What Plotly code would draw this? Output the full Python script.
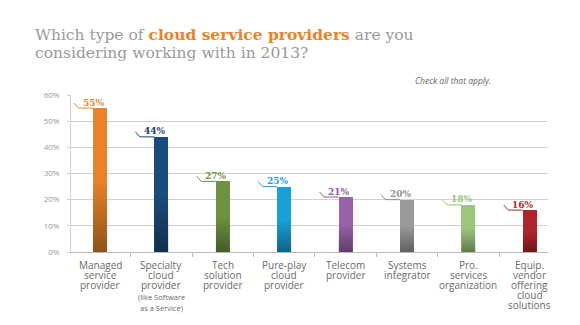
import plotly.graph_objects as go

# ---- data ----
categories = ["Managed service provider", "Specialty cloud provider", "Tech solution provider",
              "Pure-play cloud provider", "Telecom provider", "Systems integrator",
              "Pro. services organization", "Equip. vendor offering cloud solutions"]
label_lines = [["Managed", "service", "provider"],
               ["Specialty", "cloud", "provider"],
               ["Tech", "solution", "provider"],
               ["Pure-play", "cloud", "provider"],
               ["Telecom", "provider"],
               ["Systems", "integrator"],
               ["Pro.", "services", "organization"],
               ["Equip.", "vendor", "offering", "cloud", "solutions"]]
note_lines = {1: ["(like Software", "as a Service)"]}
values = [55, 44, 27, 25, 21, 20, 18, 16]
bar_colors = ["#E8832A", "#1B4B7A", "#6E9142", "#1AA0D8", "#9862A8", "#9A9A9A", "#9CC67C", "#B0242B"]
label_colors = ["#E0883A", "#1D4670", "#6F8F42", "#1AA0D6", "#8E5A9E", "#8F8F8F", "#95C47A", "#A52A2F"]
y_ticks = [0, 10, 20, 30, 40, 50, 60]
y_tick_text = ["0%", "10%", "20%", "30%", "40%", "50%", "60%"]

# ---- geometry helpers (pixel -> data conversions) ----
PX_X = 61.4          # pixels per category
PX_Y = 157 / 60.0    # pixels per percent
BAR_W = 14 / PX_X
SLAB = "DejaVu Serif"

fig = go.Figure()
xs = list(range(len(values)))
fig.add_trace(go.Bar(x=xs, y=values, width=BAR_W, marker=dict(color=bar_colors, line=dict(width=0)),
                     hoverinfo="skip", showlegend=False))

# darkening gradient on lower part of each bar
for i, v in enumerate(values):
    x0, x1 = i - BAR_W / 2, i + BAR_W / 2
    top = v * 0.5
    fig.add_trace(go.Scatter(
        x=[x0, x1, x1, x0, x0], y=[0, 0, top, top, 0], mode="lines", fill="toself",
        line=dict(width=0), hoverinfo="skip", showlegend=False,
        fillgradient=dict(type="vertical", start=0, stop=top,
                          colorscale=[[0, "rgba(0,0,0,0.38)"], [1, "rgba(0,0,0,0)"]])))

shapes = []
annotations = []
for i, v in enumerate(values):
    left = i - BAR_W / 2
    elbow = left - 14.5 / PX_X
    start = left - 19 / PX_X
    c = label_colors[i]
    shapes.append(dict(type="line", xref="x", yref="y", x0=start, y0=v + 5 / PX_Y, x1=elbow, y1=v,
                       line=dict(color=c, width=1)))
    shapes.append(dict(type="line", xref="x", yref="y", x0=elbow, y0=v, x1=left, y1=v,
                       line=dict(color=c, width=1)))
    annotations.append(dict(x=left - 12.5 / PX_X, y=v, xref="x", yref="y", xanchor="left", yanchor="middle",
                            yshift=5.5, text="<b>%d%%</b>" % v, showarrow=False,
                            font=dict(family=SLAB, size=9, color=c)))
    for k, line in enumerate(label_lines[i]):
        annotations.append(dict(x=i, y=0, xref="x", yref="paper", xanchor="center", yanchor="middle",
                                yshift=-13 - 10 * k, text=line, showarrow=False,
                                font=dict(family="Open Sans", size=10, color="#6B6B6B")))
    for k, line in enumerate(note_lines.get(i, [])):
        annotations.append(dict(x=i, y=0, xref="x", yref="paper", xanchor="center", yanchor="middle",
                                yshift=-45 - 11 * k, text=line, showarrow=False,
                                font=dict(family="Open Sans", size=7.5, color="#6B6B6B")))

# title & note
annotations.append(dict(x=(33 - 71) / 477, y=1, xref="paper", yref="paper", xanchor="left", yanchor="middle",
                        yshift=95 - 34, showarrow=False,
                        text="Which type of <b><span style='color:#E8832A'>cloud service providers</span></b> are you",
                        font=dict(family=SLAB, size=15.5, color="#9A9A9A")))
annotations.append(dict(x=(33 - 71) / 477, y=1, xref="paper", yref="paper", xanchor="left", yanchor="middle",
                        yshift=95 - 53, showarrow=False,
                        text="considering working with in 2013?",
                        font=dict(family=SLAB, size=15.5, color="#9A9A9A")))
annotations.append(dict(x=(493 - 71) / 477, y=1, xref="paper", yref="paper", xanchor="right", yanchor="middle",
                        yshift=95 - 80, showarrow=False, text="<i>Check all that apply.</i>",
                        font=dict(family="Open Sans", size=8.5, color="#666666")))

fig.update_layout(
    width=580, height=325, margin=dict(l=71, r=32, t=95, b=73),
    paper_bgcolor="white", plot_bgcolor="white", bargap=0,
    shapes=shapes, annotations=annotations, showlegend=False,
    xaxis=dict(range=[(71 - 100) / PX_X, (548 - 100) / PX_X], tickvals=[k + 0.5 for k in range(7)],
               showticklabels=False, ticks="outside", ticklen=4, tickcolor="#BBBBBB",
               showgrid=False, zeroline=False, showline=True, linecolor="#BBBBBB", linewidth=1, fixedrange=True),
    yaxis=dict(range=[0, 60], tickvals=y_ticks, ticktext=y_tick_text, ticks="outside", ticklen=3,
               tickcolor="#CCCCCC", showgrid=True, gridcolor="#D0D0D0", gridwidth=1, zeroline=False,
               showline=True, linecolor="#D0D0D0", linewidth=1, ticklabelstandoff=6,
               tickfont=dict(family="Open Sans", size=8, color="#999999"), fixedrange=True),
)

fig.write_html("out.html", config={"displayModeBar": False})
